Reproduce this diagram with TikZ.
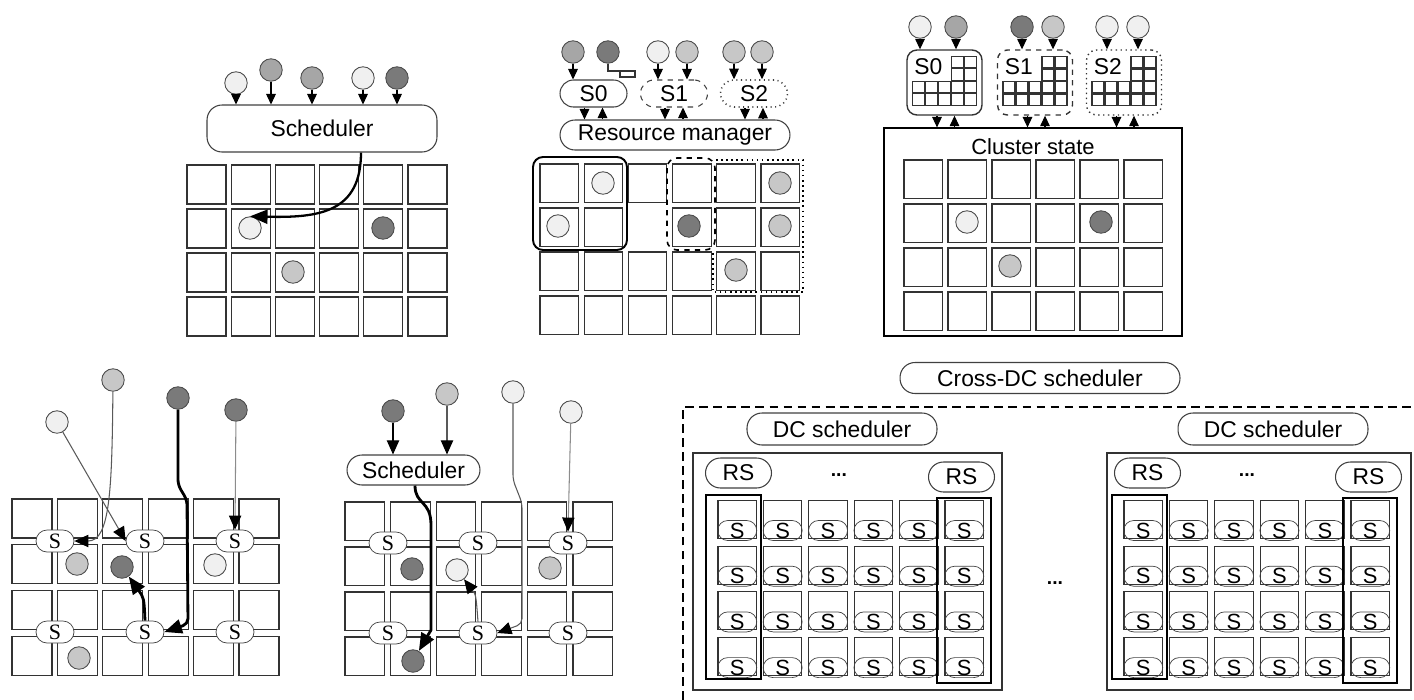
\documentclass[tikz,border=0pt]{standalone}
\usepackage{fontspec}
\setmainfont{Liberation Sans}
\newfontfamily\serifS{Liberation Serif}
\usetikzlibrary{arrows.meta,positioning,calc}

\begin{document}
\begin{tikzpicture}[x=0.02cm,y=-0.02cm,>={Triangle[length=6pt,width=5.5pt]},
  every node/.style={inner sep=0pt,font=\fontsize{13}{15}\selectfont},
  task/.style={circle,draw=black!70,line width=0.5pt,minimum size=0.45cm},
  lt/.style={task,fill=black!6},
  ml/.style={task,fill=black!22},
  md/.style={task,fill=black!35},
  dk/.style={task,fill=black!52},
  pill/.style={draw=black!75,line width=0.6pt,rounded corners=0.3cm,fill=white},
  cell/.style={draw=black!80,line width=0.6pt},
  snode/.style={draw=black!75,fill=white,rounded corners=0.22cm,minimum width=0.76cm,minimum height=0.44cm,font=\serifS\fontsize{12.5}{14}\selectfont},
  sov/.style={draw=black!75,rounded corners=0.2cm,minimum width=0.78cm,minimum height=0.4cm,font=\fontsize{12.5}{14}\selectfont},
  dots/.style={font=\bfseries\fontsize{11}{13}\selectfont},
  req/.style={->,black,line width=0.6pt},
  lnk/.style={->,>={Triangle[length=8pt,width=7pt,color=black]},black!65,line width=0.6pt},
  hot/.style={->,>={Triangle[length=10pt,width=8pt]},black,line width=1.6pt}]
\useasboundingbox (0,0) rectangle (1414,700);

% central scheduler
\node[pill,minimum width=4.6cm,minimum height=0.94cm] (sch) at (322,128.5) {Scheduler};
\foreach \n/\x/\y/\c in {a1/236/83/lt,a2/271/70/md,a3/312/78/md,a4/363/78/lt,a5/397/78/dk}{
  \node[\c] (\n) at (\x,\y) {};
  \draw[req] (\n) -- (\n |- sch.north);
}
\foreach \i in {0,...,5} \foreach \j in {0,...,3} \draw[cell] (187+44.2*\i,165+44*\j) rectangle ++(39,39);
\node[lt] (a6) at (250,228) {};
\node[dk] (a7) at (383,228) {};
\node[ml] (a8) at (293,272) {};
\draw[hot,line width=1.3pt] ([xshift=0.78cm]sch.south) .. controls (361,212) and (320,218) .. (a6.north);

% two-level
\node[pill,minimum width=4.6cm,minimum height=0.6cm] (rm) at (675,135) {Resource manager};
\node[pill,minimum width=1.34cm,minimum height=0.54cm,rounded corners=0.27cm] (b0) at (593.5,93.5) {S0};
\node[pill,dashed,minimum width=1.34cm,minimum height=0.54cm,rounded corners=0.27cm] (b1) at (674,93.5) {S1};
\node[pill,dotted,line width=0.9pt,minimum width=1.34cm,minimum height=0.54cm,rounded corners=0.27cm] (b2) at (754,93.5) {S2};
\foreach \n/\x/\c/\s in {b3/573/md/b0,b5/658/lt/b1,b6/687/ml/b1,b7/734/ml/b2,b8/762/ml/b2}{
  \node[\c] (\n) at (\x,52) {};
  \draw[req] (\n) -- (\n |- \s.north);
}
\node[dk] (b4) at (608,52) {};
\draw[black!80,line width=0.6pt] (b4.south) |- (635,71);
\draw[black!80,line width=0.6pt] (620,71) rectangle (635,77);
\foreach \s in {b0,b1,b2}{
  \coordinate (\s-d) at ([xshift=-0.18cm]\s.south);
  \coordinate (\s-u) at ([xshift=0.18cm]\s.south);
  \draw[req] (\s-d) -- (\s-d |- rm.north);
  \draw[req] (\s-u |- rm.north) -- (\s-u);
}
\foreach \i in {0,...,5} \foreach \j in {0,...,3} {\ifnum\i\j=21 \else \draw[cell] (540+44.2*\i,164+44*\j) rectangle ++(38.5,38.5);\fi}
\node[lt] at (603,183) {};
\node[lt] at (558,226) {};
\node[dk] at (689,226) {};
\node[ml] at (780,183) {};
\node[ml] at (780,226) {};
\node[ml] at (736,270) {};
\draw[line width=1.1pt,rounded corners=0.2cm] (533,157) rectangle (627,250);
\draw[line width=0.9pt,dashed,rounded corners=0.2cm] (667,158) rectangle (715,250);
\draw[line width=0.9pt,dotted] (716,160) -- (803,160) -- (803,292) -- (713,292) -- (713,250);

% shared state
\node[draw,line width=0.7pt,minimum width=5.96cm,minimum height=4.16cm] (cs) at (1033,232) {};
\node[font=\fontsize{12.5}{15}\selectfont] (cst) at ($(cs.north)+(0,19)$) {Cluster state};
\foreach \s/\x/\t/\p/\w in {c0/944.5/S0/solid/0.6pt,c1/1035/S1/dashed/0.9pt,c2/1124/S2/dotted/0.9pt}{
  \node[draw=black!80,line width=0.8pt,\p,rounded corners=0.2cm,minimum width=1.5cm,minimum height=1.3cm] (\s) at (\x,82.5) {};
  \node at ($(\s.north west)+(22,17)$) {\t};
  \foreach \k in {3,4} \foreach \r in {0,...,3} \draw[cell,line width=\w] ($(\s.north west)+(6+13*\k,7+12.5*\r)$) rectangle ++(12,11.5);
  \foreach \k in {0,1,2} \foreach \r in {2,3} \draw[cell,line width=\w] ($(\s.north west)+(6+13*\k,7+12.5*\r)$) rectangle ++(12,11.5);
  \coordinate (\s-d) at ([xshift=-0.15cm]\s.south);
  \coordinate (\s-u) at ([xshift=0.2cm]\s.south);
  \draw[req] (\s-d) -- (\s-d |- cs.north);
  \draw[req] (\s-u |- cs.north) -- (\s-u);
}
\foreach \n/\x/\c/\s in {c3/920/lt/c0,c4/956/md/c0,c5/1022/dk/c1,c6/1053/ml/c1,c7/1107/lt/c2,c8/1138/lt/c2}{
  \node[\c] (\n) at (\x,27) {};
  \draw[req] (\n) -- (\n |- \s.north);
}
\foreach \i in {0,...,5} \foreach \j in {0,...,3} \draw[cell] (904+44*\i,160+44*\j) rectangle ++(38.5,38.5);
\node[lt] at (967,222) {};
\node[dk] at (1101,222) {};
\node[ml] at (1010,266) {};

% fully distributed
\foreach \i in {0,...,5} \foreach \j in {0,...,3} \draw[cell] (12+45.4*\i,499+45.7*\j) rectangle ++(40,39);
\foreach \n/\x/\y in {e1/55/541,e2/145/541,e3/235/541,e4/55/632,e5/145/632,e6/235/632}
  \node[snode] (\n) at (\x,\y) {S};
\node[ml] (e7) at (77,564) {};
\node[dk] (e8) at (122,567) {};
\node[lt] (e9) at (215,565) {};
\node[ml] (e10) at (79,658) {};
\node[lt] (f1) at (57,422) {};
\node[ml] (f2) at (113,380) {};
\node[dk] (f3) at (178,398) {};
\node[dk] (f4) at (236,410) {};
\draw[lnk] (f1) -- (e2.west);
\draw[lnk] (f2) .. controls (112,490) and (110,541) .. (e1.east);
\draw[hot,rounded corners=3pt] (f3) -- (178,485) -- (187,500) -- (188,624) -- (e5.east);
\draw[lnk,black!45] (f4) -- (e3.north);
\draw[hot] (e5.north) .. controls (144,598) .. (e8);

% hybrid
\node[pill,minimum width=2.66cm,minimum height=0.6cm] (sch2) at (413.5,470) {Scheduler};
\foreach \i in {0,...,5} \foreach \j in {0,...,3} \draw[cell] (345+45.6*\i,502+45*\j) rectangle ++(39.5,38.5);
\foreach \n/\x in {g1/388,g2/478,g3/568}{
  \node[snode] (\n) at (\x,543) {S};
}
\foreach \n/\x in {g4/388,g5/478,g6/568}{
  \node[snode] (\n) at (\x,633) {S};
}
\node[dk] (h1) at (393,411) {};
\node[ml] (h2) at (447,394) {};
\node[lt] (h3) at (513,392) {};
\node[lt] (h4) at (571,412) {};
\node[dk] (h5) at (412,569) {};
\node[lt] (h6) at (457,570) {};
\node[ml] (h7) at (550,568) {};
\node[dk] (h8) at (413,661) {};
\draw[lnk,black] (h1) -- (h1 |- sch2.north);
\draw[lnk] (h2) -- (h2 |- sch2.north);
\draw[hot] ([xshift=0.03cm]sch2.south) .. controls (415,505) and (431,500) .. (431,525) -- (431,630) -- (h8);
\draw[lnk,rounded corners=3pt] (h3) -- (513,480) -- (522,503) -- (522,624) -- (g5.east);
\draw[lnk,black!45] (h4) -- (g3.north);
\draw[lnk] (g5.north) .. controls (476,595) .. (h6);

% geo-distributed
\node[pill,minimum width=5.6cm,minimum height=0.62cm] (xdc) at (1040,378) {Cross-DC scheduler};
\draw[line width=1.2pt,dash pattern=on 5pt off 3pt] (683,700) -- (683,407) -- (1414,407);
\foreach \d/\bl/\br/\gx/\dsx/\rl/\rr in {p/693/1002/718/842/738.5/961.5,q/1107/1411/1124/1273/1147.5/1368.5}{
  \node[pill,minimum width=3.8cm,minimum height=0.64cm] (\d-dc) at (\dsx,429) {DC scheduler};
  \draw[line width=0.6pt,black!80] (\bl,453) rectangle (\br,690);
  \node[pill,minimum width=1.32cm,minimum height=0.6cm] (\d-rs1) at (\rl,473) {RS};
  \node[pill,minimum width=1.32cm,minimum height=0.6cm] (\d-rs2) at (\rr,477) {RS};
  \node[dots] (\d-dots) at ($(\d-rs1)!0.45!(\d-rs2)$) {...};
  \foreach \i in {0,...,5} \foreach \j in {0,...,3}{
    \draw[cell] (\gx+45.4*\i,500.5+45.7*\j) rectangle ++(38.5,38);
    \node[sov] (\d-\i-\j) at (\gx+45.4*\i+19.25,500.5+45.7*\j+30) {S};
  }
  \draw[line width=1.4pt] (\gx-12,495) rectangle (\gx+43,679);
  \draw[line width=1.4pt] (\gx+219,498) rectangle (\gx+273,683);
}
\node[dots] (mid-dots) at (1055,583) {...};
\end{tikzpicture}
\end{document}
